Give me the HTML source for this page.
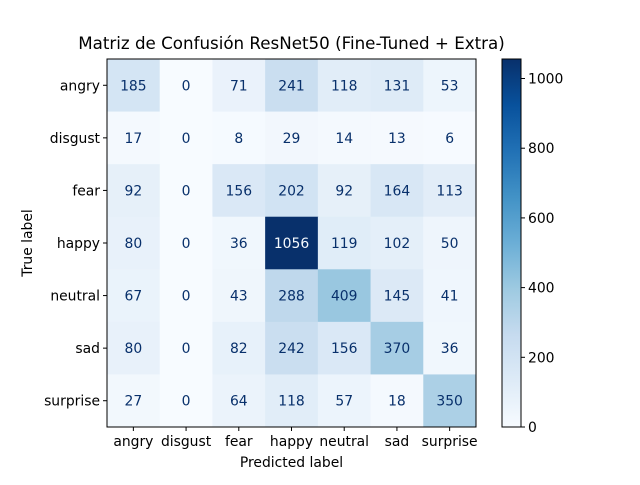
<!DOCTYPE html>
<html><head><meta charset="utf-8"><style>
body{margin:0;background:#fff;}
svg text{font-family:"DejaVu Sans","Liberation Sans",sans-serif;}
</style></head><body>
<svg id="chart" width="640" height="480" xmlns="http://www.w3.org/2000/svg">
<rect width="640" height="480" fill="#fff"/>
<g id="cells"></g>
<g id="axes"></g>
<defs><linearGradient id="cbg" x1="0" y1="1" x2="0" y2="0"></linearGradient></defs>
<g id="cbar"></g>
</svg>
<script>
const labels=["angry","disgust","fear","happy","neutral","sad","surprise"];
const values=[
[185,0,71,241,118,131,53],
[17,0,8,29,14,13,6],
[92,0,156,202,92,164,113],
[80,0,36,1056,119,102,50],
[67,0,43,288,409,145,41],
[80,0,82,242,156,370,36],
[27,0,64,118,57,18,350]];
const cbTicks=[0,200,400,600,800,1000];
const NS="http://www.w3.org/2000/svg";
const L=107,T=59,W=369,H=368;
const n=labels.length,cw=W/n,ch=H/n;
const FS=13.9;
let vmax=0,vmin=Infinity;values.forEach(r=>r.forEach(v=>{vmax=Math.max(vmax,v);vmin=Math.min(vmin,v);}));
const stops=["#f7fbff","#deebf7","#c6dbef","#9ecae1","#6baed6","#4292c6","#2171b5","#08519c","#08306b"];
function hx(c){return [1,3,5].map(i=>parseInt(c.substr(i,2),16));}
function cmap(t){t=Math.max(0,Math.min(1,t));const p=t*(stops.length-1),i=Math.min(Math.floor(p),stops.length-2),f=p-i;
const a=hx(stops[i]),b=hx(stops[i+1]);return "rgb("+a.map((x,k)=>Math.round(x+(b[k]-x)*f)).join(",")+")";}
function x(j){return L+j*cw;} function y(i){return T+i*ch;}
function el(tag,attrs,parent,txt){const e=document.createElementNS(NS,tag);for(const k in attrs)e.setAttribute(k,attrs[k]);if(txt!==undefined)e.textContent=txt;parent.appendChild(e);return e;}
const cells=document.getElementById('cells'),axes=document.getElementById('axes'),cbar=document.getElementById('cbar');
values.forEach((r,i)=>r.forEach((v,j)=>{
 const t=(v-vmin)/(vmax-vmin);
 const rc=el('rect',{x:x(j),y:y(i),width:cw+0.5,height:ch+0.5,fill:cmap(t)},cells);
 
 
 const tx=el('text',{x:x(j)+cw/2,y:y(i)+ch/2+5,'text-anchor':'middle','font-size':FS,fill:t>0.5?'#f7fbff':'#08306b'},cells,String(v));
 
 
}));
el('rect',{x:L,y:T,width:W,height:H,fill:'none',stroke:'#000','stroke-width':1},axes);
labels.forEach((lb,k)=>{
 el('line',{x1:x(k)+cw/2,x2:x(k)+cw/2,y1:T+H,y2:T+H+4,stroke:'#000'},axes);
 const a=el('text',{x:x(k)+cw/2,y:T+H+19,'text-anchor':'middle','font-size':FS},axes,lb);
 
 
 el('line',{x1:L-4,x2:L,y1:y(k)+ch/2,y2:y(k)+ch/2,stroke:'#000'},axes);
 const b=el('text',{x:L-7,y:y(k)+ch/2+5,'text-anchor':'end','font-size':FS},axes,lb);
 
 
});
let t1=el('text',{x:L+W/2,y:467,'text-anchor':'middle','font-size':FS},axes,'Predicted label');

let t2=el('text',{x:32,y:T+H/2,'text-anchor':'middle','font-size':FS,transform:'rotate(-90 32 '+(T+H/2)+')'},axes,'True label');

let t3=el('text',{x:L+W/2,y:49,'text-anchor':'middle','font-size':16.7},axes,'Matriz de Confusión ResNet50 (Fine-Tuned + Extra)');

const g=document.getElementById('cbg');
stops.forEach((s,k)=>el('stop',{offset:k/(stops.length-1),'stop-color':s},g));
const CX=502,CW=19;
function cy(v){return T+H-(v-vmin)/(vmax-vmin)*H;}
let cb=el('rect',{x:CX,y:T,width:CW,height:H,fill:'url(#cbg)',stroke:'#000','stroke-width':1},cbar);

cbTicks.forEach(v=>{
 el('line',{x1:CX+CW,x2:CX+CW+4,y1:cy(v),y2:cy(v),stroke:'#000'},cbar);
 const c=el('text',{x:CX+CW+7,y:cy(v)+5,'font-size':FS},cbar,String(v));
 
 
});
</script>
</body></html>
